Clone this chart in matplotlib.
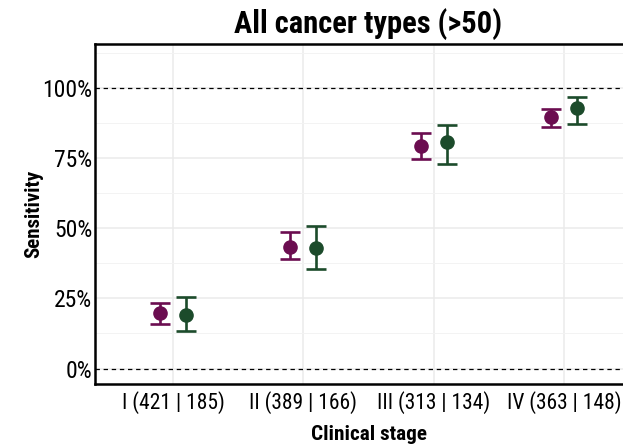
import numpy as np
import matplotlib.pyplot as plt
from matplotlib.ticker import FixedLocator

plt.rcParams['font.family'] = ['Roboto Condensed', 'DejaVu Sans']

stages = ['I (421 | 185)', 'II (389 | 166)', 'III (313 | 134)', 'IV (363 | 148)']

# sensitivity with 95% CI, two groups per stage
sens_a = [0.199, 0.434, 0.794, 0.897]
low_a = [0.160, 0.391, 0.747, 0.861]
high_a = [0.235, 0.487, 0.840, 0.925]

sens_b = [0.192, 0.430, 0.808, 0.929]
low_b = [0.135, 0.356, 0.730, 0.872]
high_b = [0.253, 0.509, 0.868, 0.968]

col_a = '#6b0d50'
col_b = '#1c4b2b'

fig = plt.figure(figsize=(6.23, 4.46), dpi=100)
ax = fig.add_axes([0.1525, 0.139, 0.878, 0.762])

x = np.arange(len(stages))
dodge = 0.1

for xs, y, lo, hi, c in [(x - dodge, sens_a, low_a, high_a, col_a),
                         (x + dodge, sens_b, low_b, high_b, col_b)]:
    y = np.array(y)
    err = [y - np.array(lo), np.array(hi) - y]
    ax.errorbar(xs, y, yerr=err, fmt='o', color=c, markersize=9.5,
                elinewidth=1.9, capsize=7.5, capthick=1.9, zorder=3)

ax.axhline(0, color='black', linestyle=(0, (3.5, 3)), linewidth=0.9, zorder=2)
ax.axhline(1, color='black', linestyle=(0, (3.5, 3)), linewidth=0.9, zorder=2)

ax.set_xlim(-0.6, len(stages) - 0.4)
ax.set_ylim(-0.055, 1.155)
ax.set_xticks(x)
ax.set_xticklabels(stages)
ax.set_yticks([0, 0.25, 0.5, 0.75, 1.0])
ax.set_yticklabels(['0%', '25%', '50%', '75%', '100%'])
ax.yaxis.set_minor_locator(FixedLocator([0.125, 0.375, 0.625, 0.875, 1.125]))

ax.grid(True, which='major', color='#ebebeb', linewidth=1.1, zorder=0)
ax.grid(True, which='minor', axis='y', color='#f3f3f3', linewidth=0.7, zorder=0)
ax.set_axisbelow(True)

for s in ['left', 'bottom', 'top', 'right']:
    ax.spines[s].set_linewidth(1.8)
    ax.spines[s].set_color('black')

ax.tick_params(axis='both', which='major', length=0, colors='black')
ax.tick_params(axis='y', labelsize=17, pad=2)
ax.tick_params(axis='x', labelsize=15.5, pad=5)
ax.tick_params(axis='y', which='minor', length=0)

ax.set_xlabel('Clinical stage', fontsize=15.3, fontweight='bold', labelpad=8)
ax.set_ylabel('Sensitivity', fontsize=15, fontweight='bold', labelpad=-1)
ax.set_title('All cancer types (>50)', fontsize=22, fontweight='bold', pad=8)

fig.savefig('out.png', dpi=100)
